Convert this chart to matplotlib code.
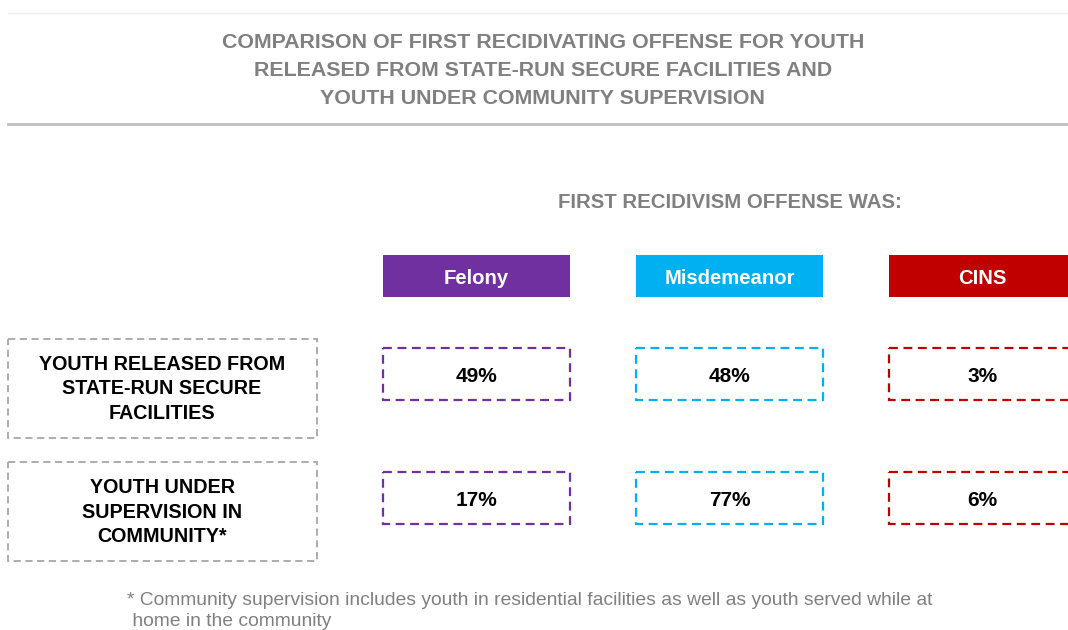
import matplotlib.pyplot as plt
from matplotlib.patches import Rectangle

plt.rcParams['font.family'] = ['Liberation Sans', 'DejaVu Sans']

title_lines = ["COMPARISON OF FIRST RECIDIVATING OFFENSE FOR YOUTH",
               "RELEASED FROM STATE-RUN SECURE FACILITIES AND",
               "YOUTH UNDER COMMUNITY SUPERVISION"]
subtitle = "FIRST RECIDIVISM OFFENSE WAS:"
offense_types = ["Felony", "Misdemeanor", "CINS"]
type_colors = ["#7030A0", "#00B0F0", "#C00000"]
groups = ["YOUTH RELEASED FROM\nSTATE-RUN SECURE\nFACILITIES",
          "YOUTH UNDER\nSUPERVISION IN\nCOMMUNITY*"]
released_pct = [49, 48, 3]
community_pct = [17, 77, 6]
footnote = ("* Community supervision includes youth in residential facilities as well as youth served while at\n"
            " home in the community")

W, H = 1068, 630
fig = plt.figure(figsize=(W / 100, H / 100), dpi=100)
ax = fig.add_axes([0, 0, 1, 1])
ax.set_xlim(0, W)
ax.set_ylim(H, 0)
ax.axis('off')

grey = "#808080"

# top rules
ax.plot([8, W], [13, 13], color="#eeeeee", lw=1)
ax.plot([8, W], [124, 124], color="#bfbfbf", lw=2)

for i, line in enumerate(title_lines):
    ax.text(543, 43 + 28 * i, line, ha='center', va='center', fontsize=15.4,
            fontweight='bold', color=grey)

ax.text(730, 202, subtitle, ha='center', va='center', fontsize=14.7,
        fontweight='bold', color=grey)

col_x = [383, 636, 889]
col_w = 187

# header boxes
for x, name, c in zip(col_x, offense_types, type_colors):
    ax.add_patch(Rectangle((x, 255), col_w, 42, facecolor=c, edgecolor='none'))
    ax.text(x + col_w / 2, 279, name, ha='center', va='center', fontsize=14.6,
            fontweight='bold', color='white')

rows = [released_pct, community_pct]
label_y = [339, 462]
val_y = [348, 472]
for r, (vals, ly, vy, lab) in enumerate(zip(rows, label_y, val_y, groups)):
    ax.add_patch(Rectangle((8, ly), 309, 99, facecolor='none', edgecolor='#a6a6a6',
                           lw=1.3, linestyle=(0, (4, 2.5))))
    ax.text(162, ly + 50, lab, ha='center', va='center', fontsize=14.2,
            fontweight='bold', color='black', linespacing=1.38)
    for x, v, c in zip(col_x, vals, type_colors):
        ax.add_patch(Rectangle((x, vy), col_w, 52, facecolor='none', edgecolor=c,
                               lw=1.6, linestyle=(0, (4, 2.5))))
        ax.text(x + col_w / 2, vy + 29, f"{v}%", ha='center', va='center',
                fontsize=15, fontweight='bold', color='black')

ax.text(127, 611, footnote, ha='left', va='center', fontsize=13.9, color=grey,
        linespacing=1.35)

fig.savefig("out.png", dpi=100, facecolor='white')
